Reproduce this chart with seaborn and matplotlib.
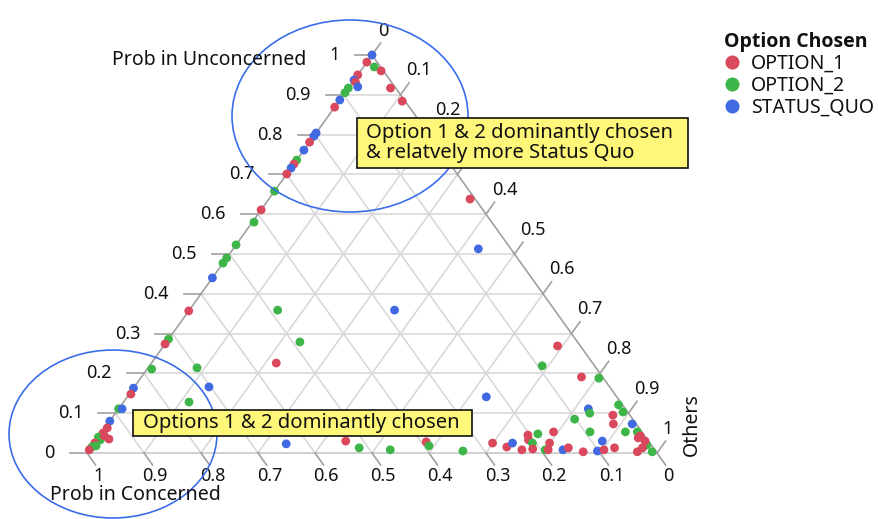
import matplotlib
matplotlib.use('Agg')
import matplotlib.pyplot as plt
from matplotlib.patches import Ellipse, Rectangle
import seaborn as sns
import pandas as pd

# option chosen per respondent, with predicted probabilities
option = (
    ['STATUS_QUO', 'OPTION_1', 'OPTION_2', 'OPTION_1', 'OPTION_1', 'STATUS_QUO', 'OPTION_1', 'STATUS_QUO',
     'OPTION_2', 'OPTION_1', 'OPTION_2', 'OPTION_1', 'STATUS_QUO', 'OPTION_1', 'STATUS_QUO', 'STATUS_QUO',
     'OPTION_1', 'STATUS_QUO', 'OPTION_2', 'OPTION_1', 'STATUS_QUO', 'OPTION_1', 'OPTION_2', 'OPTION_1',
     'OPTION_2', 'OPTION_2', 'OPTION_2', 'OPTION_2', 'STATUS_QUO', 'OPTION_1', 'OPTION_2', 'OPTION_1',
     'OPTION_2', 'STATUS_QUO', 'OPTION_1', 'OPTION_2', 'STATUS_QUO', 'STATUS_QUO', 'OPTION_1', 'OPTION_1',
     'OPTION_1', 'OPTION_2', 'OPTION_2', 'OPTION_1', 'OPTION_2', 'OPTION_1', 'OPTION_2', 'OPTION_1']
    + ['OPTION_1', 'STATUS_QUO', 'OPTION_2', 'STATUS_QUO', 'OPTION_2', 'OPTION_1', 'OPTION_2', 'STATUS_QUO',
       'OPTION_2', 'STATUS_QUO', 'OPTION_1', 'OPTION_2', 'OPTION_2', 'OPTION_1', 'OPTION_2', 'OPTION_2',
       'OPTION_1', 'STATUS_QUO', 'OPTION_1', 'OPTION_2', 'OPTION_1', 'OPTION_2']
    + ['OPTION_1', 'STATUS_QUO', 'OPTION_1', 'OPTION_1', 'OPTION_2', 'OPTION_1', 'OPTION_2', 'OPTION_1',
       'OPTION_1', 'OPTION_1', 'OPTION_2', 'OPTION_1', 'STATUS_QUO', 'OPTION_1', 'OPTION_1', 'OPTION_2',
       'STATUS_QUO', 'OPTION_2', 'OPTION_1', 'OPTION_1', 'OPTION_2', 'STATUS_QUO', 'STATUS_QUO', 'OPTION_1',
       'OPTION_1', 'STATUS_QUO', 'OPTION_2', 'OPTION_2', 'OPTION_2', 'OPTION_2', 'OPTION_1', 'OPTION_1',
       'OPTION_2', 'OPTION_1', 'OPTION_2', 'OPTION_1', 'OPTION_1']
)
p_unconcerned = (
    [1.0, 0.982, 0.970, 0.960, 0.950, 0.937, 0.932, 0.920,
     0.917, 0.917, 0.905, 0.884, 0.887, 0.869, 0.804, 0.796,
     0.781, 0.761, 0.736, 0.726, 0.716, 0.701, 0.658, 0.611,
     0.580, 0.523, 0.490, 0.477, 0.440, 0.357, 0.286, 0.274,
     0.211, 0.163, 0.148, 0.111, 0.111, 0.080, 0.063, 0.050,
     0.035, 0.040, 0.033, 0.025, 0.015, 0.008, 0.018, 0.043]
    + [0.638, 0.513, 0.359, 0.359, 0.279, 0.226, 0.214, 0.166,
       0.128, 0.023, 0.030, 0.013, 0.008, 0.028, 0.018, 0.005,
       0.025, 0.141, 0.269, 0.219, 0.191, 0.188]
    + [0.015, 0.025, 0.008, 0.045, 0.048, 0.033, 0.025, 0.010,
       0.025, 0.053, 0.008, 0.008, 0.008, 0.013, 0.003, 0.085,
       0.111, 0.100, 0.095, 0.073, 0.053, 0.030, 0.005, 0.008,
       0.013, 0.073, 0.053, 0.121, 0.103, 0.053, 0.038, 0.003,
       0.020, 0.013, 0.003, 0.043, 0.030]
)
p_others = (
    [0.0, 0.0, 0.019, 0.036, 0.0, 0.0, 0.005, 0.015,
     0.0, 0.074, 0.0, 0.111, 0.0, 0.0, 0.0, 0.0,
     0.0, 0.0, 0.0, 0.0, 0.0, 0.0, 0.0, 0.0,
     0.003, 0.0, 0.0, 0.0, 0.0, 0.0, 0.0, 0.0,
     0.008, 0.0, 0.003, 0.0, 0.006, 0.0, 0.004, 0.003,
     0.021, 0.0, 0.007, 0.001, 0.001, 0.0, 0.007, 0.009]
    + [0.353, 0.430, 0.155, 0.360, 0.234, 0.219, 0.086, 0.131,
       0.115, 0.338, 0.439, 0.471, 0.528, 0.581, 0.591, 0.657,
       0.699, 0.630, 0.691, 0.689, 0.772, 0.804]
    + [0.729, 0.734, 0.759, 0.751, 0.767, 0.758, 0.769, 0.777,
       0.799, 0.792, 0.800, 0.805, 0.831, 0.838, 0.869, 0.813,
       0.824, 0.832, 0.875, 0.887, 0.856, 0.889, 0.893, 0.903,
       0.919, 0.920, 0.918, 0.872, 0.889, 0.939, 0.948, 0.964,
       0.972, 0.968, 0.990, 0.949, 0.964]
)
hue_order = ['OPTION_1', 'OPTION_2', 'STATUS_QUO']
palette = ['#D9485C', '#3DB548', '#4169E1']
tick_values = [0, 0.1, 0.2, 0.3, 0.4, 0.5, 0.6, 0.7, 0.8, 0.9, 1]

df = pd.DataFrame({'Option Chosen': option,
                   'Prob in Unconcerned': p_unconcerned,
                   'Others': p_others})
df['Prob in Concerned'] = 1 - df['Prob in Unconcerned'] - df['Others']
# ternary -> cartesian (bottom-left = Concerned, top = Unconcerned, bottom-right = Others)
df['x'] = df['Others'] + df['Prob in Unconcerned'] / 2
df['y'] = df['Prob in Unconcerned']


def tern(u, o):
    return o + u / 2, u


W, H = 879, 519
plt.rcParams['font.family'] = ['Noto Sans', 'DejaVu Sans']
fig = plt.figure(figsize=(W / 100, H / 100), dpi=100)
ax = fig.add_axes([87 / W, (H - 453) / H, 570 / W, 398 / H])
ax.set_xlim(0, 1)
ax.set_ylim(0, 1)

grid_kw = dict(color='#d9d9d9', lw=1.2, zorder=1, clip_on=False)
for v in tick_values[1:-1]:
    ax.plot(*zip(tern(v, 0), tern(v, 1 - v)), **grid_kw)          # const Unconcerned
    ax.plot(*zip(tern(0, 1 - v), tern(1 - v, 0)), **grid_kw)      # const Concerned
    ax.plot(*zip(tern(0, v), tern(1 - v, v)), **grid_kw)          # const Others

edge = '#a0a0a0'
ax.plot(*zip(tern(0, 0), tern(1, 0)), color=edge, lw=1.2, zorder=2, clip_on=False)
ax.plot(*zip(tern(1, 0), tern(0, 1)), color=edge, lw=1.2, zorder=2, clip_on=False)
ax.plot(*zip(tern(0, 0), tern(0, 1)), color='#c8c8c8', lw=1.2, zorder=2, clip_on=False)

d = 0.03
fs_tick = 13
fs = 14
txt = '#111111'
for v in tick_values:
    lab = f'{v:g}'
    # left axis: Prob in Unconcerned
    p0, p1 = tern(v, 0), tern(v, -d)
    ax.plot(*zip(p0, p1), color=edge, lw=1.2, clip_on=False)
    ax.annotate(lab, p1, xytext=(-11, 0), textcoords='offset points', annotation_clip=False,
                ha='right', va='center', fontsize=fs_tick, color=txt)
    # bottom axis: Prob in Concerned
    p0, p1 = tern(0, 1 - v), tern(-d, 1 - v + d)
    ax.plot(*zip(p0, p1), color=edge, lw=1.2, clip_on=False)
    ax.annotate(lab, p1, xytext=(2, -8), textcoords='offset points', annotation_clip=False,
                ha='center', va='center', fontsize=fs_tick, color=txt)
    # right axis: Others (0.3 sits under the note box, as in the original)
    p0, p1 = tern(1 - v, v), tern(1 - v + d, v)
    ax.plot(*zip(p0, p1), color=edge, lw=1.2, clip_on=False)
    if v != 0.3:
        ax.annotate(lab, p1, xytext=(-2, 9), textcoords='offset points', annotation_clip=False,
                    ha='left', va='center', fontsize=fs_tick, color=txt)

sns.scatterplot(data=df, x='x', y='y', hue='Option Chosen', hue_order=hue_order,
                palette=palette, s=40, linewidth=0, ax=ax, zorder=3, clip_on=False)
ax.set_xlim(0, 1)
ax.set_ylim(0, 1)
ax.axis('off')

sns.move_legend(ax, 'upper left', bbox_to_anchor=(716 / W, 1 - 24 / H),
                bbox_transform=fig.transFigure, frameon=False, title='Option Chosen',
                fontsize=fs,
                title_fontproperties={'family': 'Open Sans', 'weight': 'bold', 'size': fs},
                markerscale=1.6, labelspacing=0.1, handlelength=0.8, handletextpad=0.6,
                borderaxespad=0)
leg = ax.get_legend()
leg._legend_box.align = 'left'
for t in leg.get_texts():
    t.set_color(txt)
leg.get_title().set_color(txt)

# overlay in pixel coordinates for titles and notes
ov = fig.add_axes([0, 0, 1, 1], zorder=5)
ov.set_xlim(0, W)
ov.set_ylim(H, 0)
ov.axis('off')
ov.patch.set_visible(False)

ov.text(209, 60, 'Prob in Unconcerned', ha='center', va='center', fontsize=fs, color=txt)
ov.text(135, 495, 'Prob in Concerned', ha='center', va='center', fontsize=fs, color=txt)
ov.text(692, 425, 'Others', ha='center', va='center', rotation=90, fontsize=fs, color=txt)

ov.add_patch(Ellipse((350, 116), 236, 192, fill=False, ec='#3A6EE8', lw=1.2))
ov.add_patch(Ellipse((113, 434), 208, 168, fill=False, ec='#3A6EE8', lw=1.2))

ov.add_patch(Rectangle((357, 118), 331, 50, fc='#FFF77A', ec='#111111', lw=1.2))
ov.text(366, 143, 'Option 1 & 2 dominantly chosen\n& relatvely more Status Quo',
        ha='left', va='center', fontsize=14.6, color=txt, linespacing=1.02)
ov.add_patch(Rectangle((133, 410), 339, 26, fc='#FFF77A', ec='#111111', lw=1.2))
ov.text(143, 423, 'Options 1 & 2 dominantly chosen',
        ha='left', va='center', fontsize=14.6, color=txt)

fig.savefig('out.png', dpi=100)
